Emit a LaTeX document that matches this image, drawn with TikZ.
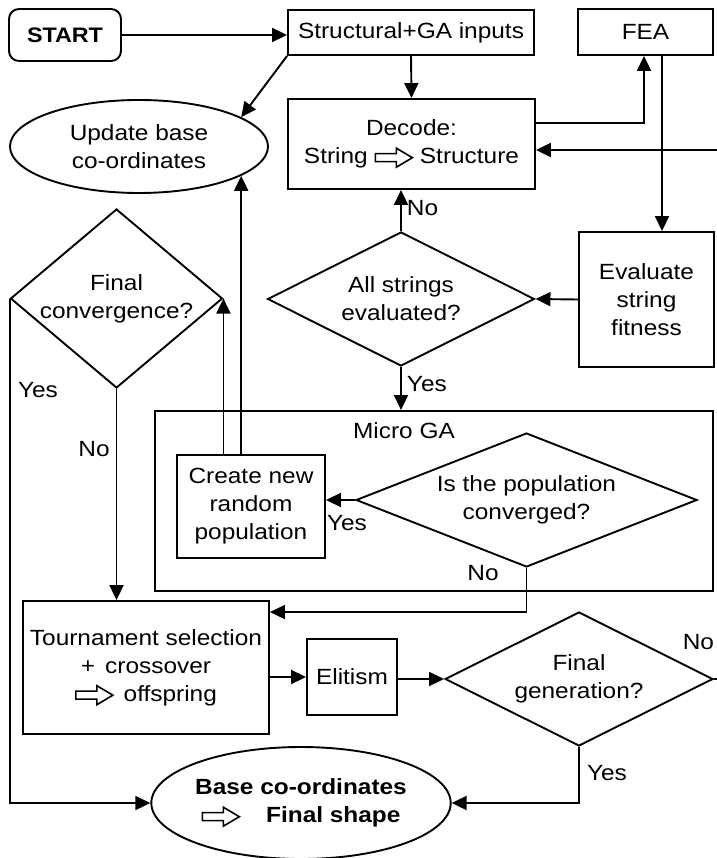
\documentclass[tikz,border=0pt]{standalone}
\usepackage{fontspec}
\setmainfont{Liberation Sans}[FakeStretch=1.11]
\usetikzlibrary{arrows.meta,shapes.geometric,calc}
\newcommand\hol{\begin{pgfpicture}\pgfsetbaseline{0pt}\pgfsetlinewidth{1.6pt}\pgfsetmiterjoin
\pgfpathmoveto{\pgfpoint{0pt}{2pt}}\pgfpathlineto{\pgfpoint{21pt}{2pt}}\pgfpathlineto{\pgfpoint{21pt}{-3.5pt}}\pgfpathlineto{\pgfpoint{37pt}{6pt}}\pgfpathlineto{\pgfpoint{21pt}{15.5pt}}\pgfpathlineto{\pgfpoint{21pt}{10pt}}\pgfpathlineto{\pgfpoint{0pt}{10pt}}\pgfpathclose\pgfusepath{stroke}\end{pgfpicture}}
\begin{document}
\begin{tikzpicture}[x=1pt,y=-1pt,line width=1.9pt,
  >={Triangle[length=15pt,width=14pt]},
  every node/.style={font=\fontsize{22}{28}\selectfont,align=center,inner sep=0pt},
  box/.style={draw,rectangle,line width=1.9pt},
  oval/.style={draw,ellipse,line width=1.9pt},
  decision/.style={draw,diamond,line width=1.9pt},
  lbl/.style={font=\fontsize{22}{28}\selectfont}]
\fill[white] (0,0) rectangle (716,858);
\useasboundingbox (0,0) rectangle (716,858);
% nodes
\node[box,rounded corners=10pt,minimum width=112pt,minimum height=52pt,font=\fontsize{21}{28}\selectfont\bfseries] (start) at (65,35) {START};
\node[box,minimum width=246pt,minimum height=45pt] (sga) at (411,32.5) {Structural+GA inputs};
\node[box,minimum width=135pt,minimum height=46pt] (fea) at (645.5,32) {FEA};
\node[box,minimum width=247pt,minimum height=90pt] (dec) at (411.5,144) {Decode:\\String \hol\ Structure};
\node[oval,minimum width=258pt,minimum height=93pt] (ub) at (139,146.5) {Update base\\co-ordinates};
\node[decision,minimum width=212pt,minimum height=179pt] (fc) at (116.5,298.5) {};
\node at (fc) {Final\\convergence?};
\node[decision,minimum width=267pt,minimum height=134pt] (as) at (401,299) {};
\node at (as) {All strings\\evaluated?};
\node[box,minimum width=135pt,minimum height=135pt] (ev) at (646.5,299.5) {Evaluate\\string\\fitness};
\node[box,minimum width=558pt,minimum height=180pt] (micro) at (434,501) {};
\node (microlbl) at (404,431) {Micro GA};
\node[box,minimum width=148pt,minimum height=103pt] (cn) at (251,506.5) {Create new\\random\\population};
\node[decision,minimum width=341pt,minimum height=134pt] (pc) at (526.5,500) {};
\node at (pc) {Is the population\\converged?};
\node[box,minimum width=246pt,minimum height=133pt] (ts) at (146,667.5) {Tournament selection\\+\hspace{10pt}crossover\\\hol\hspace{10pt}offspring};
\node[box,minimum width=90pt,minimum height=76pt] (el) at (352,677) {Elitism};
\node[decision,minimum width=268pt,minimum height=134pt] (fg) at (579,679) {};
\node at (fg) {Final\\generation?};
\node[oval,minimum width=292pt,minimum height=112pt,font=\fontsize{22}{28}\selectfont\bfseries] (base) at (301,803) {Base co-ordinates\\\hol\hspace{26pt}Final shape};
% connectors
\draw[->] (start.east) -- (start.east -| sga.west);
\draw[->] (sga.south west) -- (ub.16);
\draw[->] (sga.south) -- (dec.north);
\draw[->] ($(dec.east)+(0,-21)$) -| ($(fea.south)+(-1.5,0)$);
\draw[->] ($(fea.south)+(16.5,0)$) -- ($(ev.north)+(15.5,0)$);
\draw[->] (fg.east) -- ++(20,0) |- ($(dec.east)+(0,6)$);
\draw[->] (ev.west) -- (as.east);
\draw[->] (as.north) -- (as.north |- dec.south) node[lbl,pos=0.55,right=5pt] {No};
\draw[->] (as.south) -- (as.south |- micro.north) node[lbl,pos=0.4,right=5pt] {Yes};
\draw[->] (pc.west) -- (pc.west -| cn.east);
\node[lbl] (yes3) at (347,523) {Yes};
\draw[->] (pc.south) |- ($(ts.north east)+(0,12)$);
\node[lbl] (no3) at (483,573) {No};
\draw[->] (cn.north west -| ub.-16) -- (ub.-16);
\draw[->] (cn.north west -| fc.east) -- (fc.east);
\draw[->] (fc.west) |- (base.west);
\node[lbl] (yes1) at (38,390) {Yes};
\draw[->] (fc.south) -- (fc.south |- ts.north);
\node[lbl] (no1) at (94,449) {No};
\draw[->] (el.west -| ts.east) -- (el.west);
\draw[->] (fg.west -| el.east) -- (fg.west);
\draw[->] (fg.south) |- (base.east);
\node[lbl] (yes4) at (607,773) {Yes};
\node[lbl,anchor=east] (no4) at (715,642) {No};
\end{tikzpicture}
\end{document}
